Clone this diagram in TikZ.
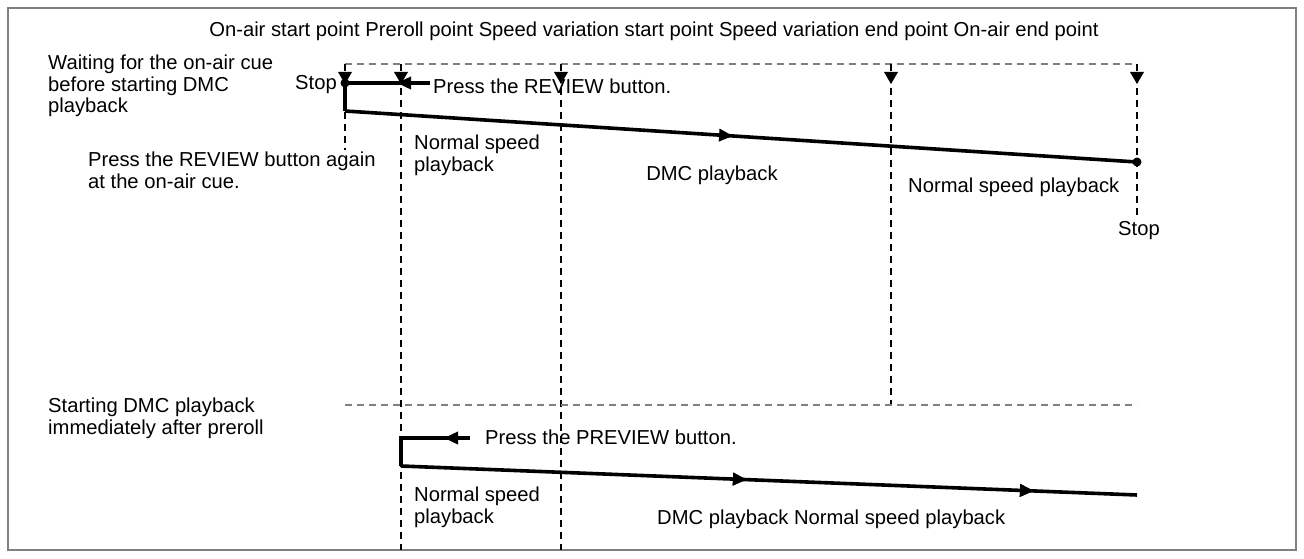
\documentclass[tikz,border=0pt]{standalone}
\usepackage{fontspec}
\setmainfont{Liberation Sans}
\usetikzlibrary{arrows.meta,positioning,decorations.markings}

\tikzset{
  lbl/.style={inner sep=0pt,align=left,font=\fontsize{20.2}{21.5}\selectfont},
  guide/.style={dash pattern=on 7pt off 5pt,line width=1.7pt},
  flow/.style={line width=3.6pt},
  tip/.style={-{Triangle[length=14pt,width=12pt]},line width=3.6pt},
  midarrow/.style={postaction=decorate,decoration={markings,mark=at position #1 with {\arrow{Triangle[length=14pt,width=12pt]}}}},
}

\begin{document}
\begin{tikzpicture}[x=1pt,y=-1pt]
\useasboundingbox (0,0) rectangle (1304,559);
\draw[gray,line width=1.2pt] (8,8) rectangle (1296,550);

% header and markers
\node[lbl,anchor=base] (head) at (654,37) {On-air start point Preroll point Speed variation start point Speed variation end point On-air end point};
\foreach \x [count=\n] in {345,401,561,891,1137} {
  \coordinate (T\n) at (\x,64);
  \fill (\x-7,72) -- (\x+7,72) -- (\x,84) -- cycle;
}

% guide lines
\draw[guide,gray] (T1) -- (T5);
\draw[guide] (T1) -- (345,150);
\draw[guide] (T2) -- (401,550);
\draw[guide] (T3) -- (561,550);
\draw[guide] (T4) -- (891,405);
\draw[guide] (T5) -- (1137,215);
\draw[guide,gray] (345,405) -- (1137,405);

% upper case
\coordinate (A0) at (345,83);
\coordinate (A1) at (430,83);
\coordinate (B0) at (345,111);
\coordinate (B1) at (1137,162);
\draw[flow] (A1) -- (A0) -- (B0);
\draw[tip] (A1) -- (397,83);
\draw[flow,midarrow=0.49] (B0) -- (B1);
\fill (A0) circle (4.5pt);
\fill (B1) circle (4.5pt);

\node[lbl,anchor=north west] (wait) at (48,55) {Waiting for the on-air cue\\before starting DMC\\playback};
\node[lbl,anchor=base east] (stop1) at (337,90) {Stop};
\node[lbl,anchor=base west] (review) at (433,94) {Press the REVIEW button.};
\node[lbl,anchor=north west] (again) at (88,152) {Press the REVIEW button again\\at the on-air cue.};
\node[lbl,anchor=north west] (norm1) at (414,135) {Normal speed\\playback};
\node[lbl,anchor=base] (dmc1) at (712,180) {DMC playback};
\node[lbl,anchor=base west] (norm2) at (908,193) {Normal speed playback};
\node[lbl,anchor=base west] (stop2) at (1118,235) {Stop};

% lower case
\coordinate (C0) at (401,438);
\coordinate (C1) at (470,438);
\coordinate (D0) at (401,466);
\coordinate (D1) at (1137,495);
\draw[flow] (C1) -- (C0) -- (D0);
\draw[tip] (C1) -- (444,438);
\draw[flow,midarrow=0.47,midarrow=0.86] (D0) -- (D1);

\node[lbl,anchor=north west] (start) at (48,398) {Starting DMC playback\\immediately after preroll};
\node[lbl,anchor=base west] (preview) at (485,444) {Press the PREVIEW button.};
\node[lbl,anchor=north west] (norm3) at (414,487) {Normal speed\\playback};
\node[lbl,anchor=base west] (dmc2) at (657,524) {DMC playback Normal speed playback};
\end{tikzpicture}
\end{document}
